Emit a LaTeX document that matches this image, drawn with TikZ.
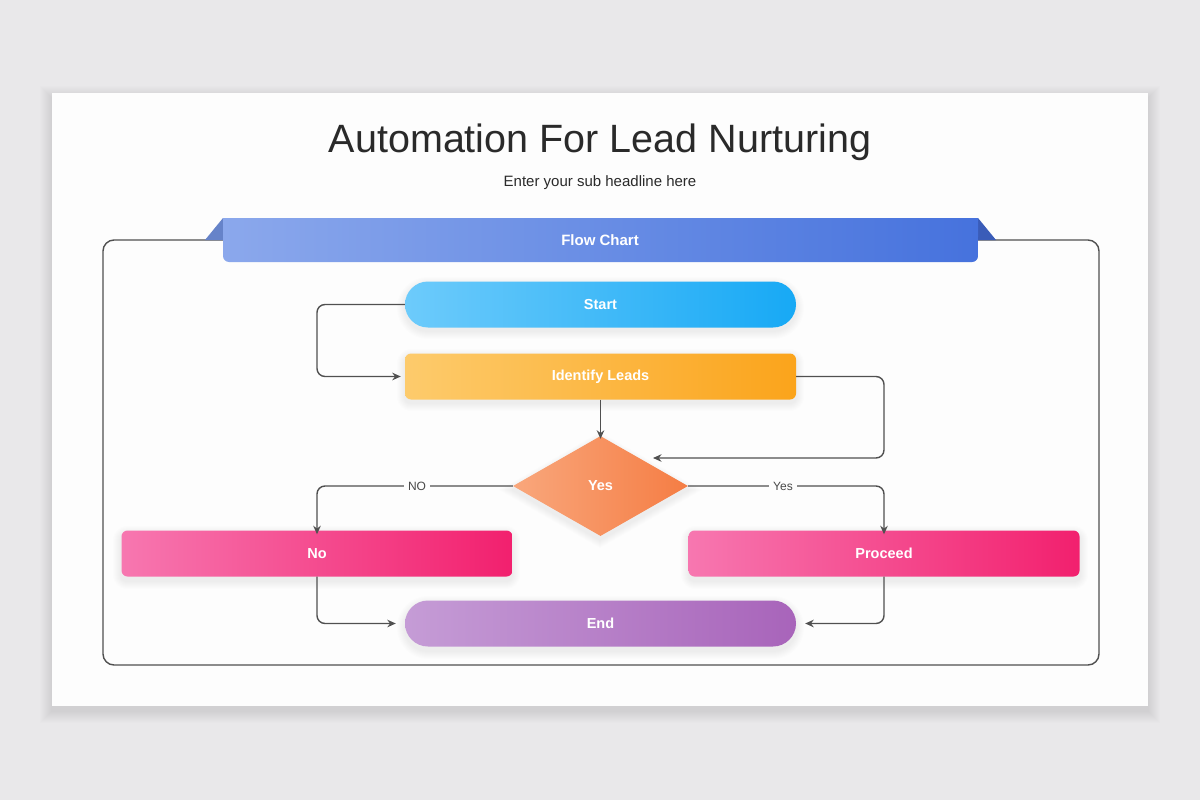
\documentclass[tikz,border=0pt]{standalone}
\usepackage{fontspec}
\setmainfont{Liberation Sans}
\usetikzlibrary{shapes.geometric,arrows.meta}
\definecolor{bgc}{HTML}{E9E8EA}
\definecolor{cardc}{HTML}{FDFDFD}
\definecolor{linec}{HTML}{505050}
\definecolor{titlec}{HTML}{2A2A2A}
\definecolor{banL}{HTML}{8BA8EC}
\definecolor{banR}{HTML}{4672DD}
\definecolor{foldL}{HTML}{6683C9}
\definecolor{foldR}{HTML}{3A5CB8}
\definecolor{stL}{HTML}{6DCBFB}
\definecolor{stR}{HTML}{17A9F5}
\definecolor{idL}{HTML}{FDCB6C}
\definecolor{idR}{HTML}{FBA41B}
\definecolor{diL}{HTML}{F9A77C}
\definecolor{diR}{HTML}{F57D44}
\definecolor{pkL}{HTML}{F777B0}
\definecolor{pkR}{HTML}{F2206E}
\definecolor{enL}{HTML}{C59CD6}
\definecolor{enR}{HTML}{A864BA}
\newcommand{\softsh}[5]{%
  \foreach \i in {1,...,8}{%
    \fill[black, opacity=0.009, rounded corners={#5+\i}] ({#1-\i},{#2-\i+4}) rectangle ({#3+\i},{#4+\i+4});}}
\tikzset{
  flowbox/.style={rectangle, minimum width=391pt, minimum height=46pt, inner sep=0pt,
     text=white, font=\bfseries\fontsize{14.5}{16}\selectfont},
  pill/.style={flowbox, rounded corners=23pt},
  rbox/.style={flowbox, rounded corners=6pt},
  conn/.style={draw=linec, line width=1.4pt, rounded corners=8pt, -{Stealth[length=8.5pt,width=7.5pt]}},
  lbl/.style={fill=cardc, inner sep=4pt, text=linec!90!black, font=\fontsize{12}{14}\selectfont}
}
\begin{document}
\begin{tikzpicture}[x=1pt,y=-1pt]
\useasboundingbox (0,0) rectangle (1200,800);
\fill[bgc] (0,0) rectangle (1200,800);
% card shadow
\foreach \i in {1,...,12}{%
  \fill[black, opacity=0.008] ({52-\i},{93-\i+5}) rectangle ({1148+\i},{706+\i+5});}
\fill[cardc] (52,93) rectangle (1148,706);
% node shadows
\softsh{405}{281}{796}{327}{23}
\softsh{405}{353}{796}{399}{6}
\softsh{121}{530}{512}{577}{6}
\softsh{689}{530}{1080}{577}{6}
\softsh{405}{600}{796}{647}{23}
\foreach \i in {1,...,8}{%
  \fill[black, opacity=0.009] ({600},{436-\i+4}) -- ({688+1.75*\i},{486+4}) -- ({600},{536+\i+4}) -- ({513-1.75*\i},{486+4}) -- cycle;}
% title
\node[text=titlec, font=\fontsize{39.5}{44}\selectfont] (title) at (600,142) {Automation For Lead Nurturing};
\node[text=titlec, font=\fontsize{15}{18}\selectfont] (sub) at (600,183) {Enter your sub headline here};
% outer frame
\draw[linec, line width=1.4pt, rounded corners=11pt] (103,240) rectangle (1099,665);
% banner folds
\fill[foldL] (205,240) -- (223,218) -- (223,240) -- cycle;
\fill[foldR] (978,218) -- (996,240) -- (978,240) -- cycle;
% banner
\node[rounded corners=6pt, minimum width=755pt, minimum height=44pt, inner sep=0pt,
  left color=banL, right color=banR] (banbase) at (600.5,240) {};
\shade[left color=banL, right color=banR] (223,218) rectangle (978,236);
\node[text=white, font=\bfseries\fontsize{15}{18}\selectfont] (banner) at (600,240.5) {Flow Chart};
% nodes
\node[pill, left color=stL, right color=stR] (start) at (600.5,304.5) {Start};
\node[rbox, left color=idL, right color=idR] (ident) at (600.5,376.5) {Identify Leads};
\node[diamond, minimum width=175pt, minimum height=100pt, inner sep=0pt, aspect=1.75,
  left color=diL, right color=diR, text=white, font=\bfseries\fontsize{14.5}{16}\selectfont]
  (dec) at (600.5,486) {Yes};
\node[rbox, left color=pkL, right color=pkR] (no) at (317,553.5) {No};
\node[rbox, left color=pkL, right color=pkR] (proc) at (884,553.5) {Proceed};
\node[pill, left color=enL, right color=enR] (end) at (600.5,623.5) {End};
% helper coordinates
\coordinate (decin) at (653,458);
% connectors
\draw[conn] (start.west) -- (317,304.5) -- (317,376.5) -- ([xshift=-4pt]ident.west);
\draw[conn] (ident.east) -- (884,376.5) -- (884,458) -- (decin);
\draw[conn] (ident.south) -- ([yshift=-3pt]dec.north);
\draw[conn] (dec.west) -- (no.north |- dec.west) -- ([yshift=-4pt]no.north);
\draw[conn] (dec.east) -- (proc.north |- dec.east) -- ([yshift=-4pt]proc.north);
\draw[conn] (no.south) -- (no.south |- end.west) -- ([xshift=-9pt]end.west);
\draw[conn] (proc.south) -- (proc.south |- end.east) -- ([xshift=9pt]end.east);
\node[lbl] (lno) at (417,486) {NO};
\node[lbl] (lyes) at (783,486) {Yes};
\end{tikzpicture}
\end{document}
